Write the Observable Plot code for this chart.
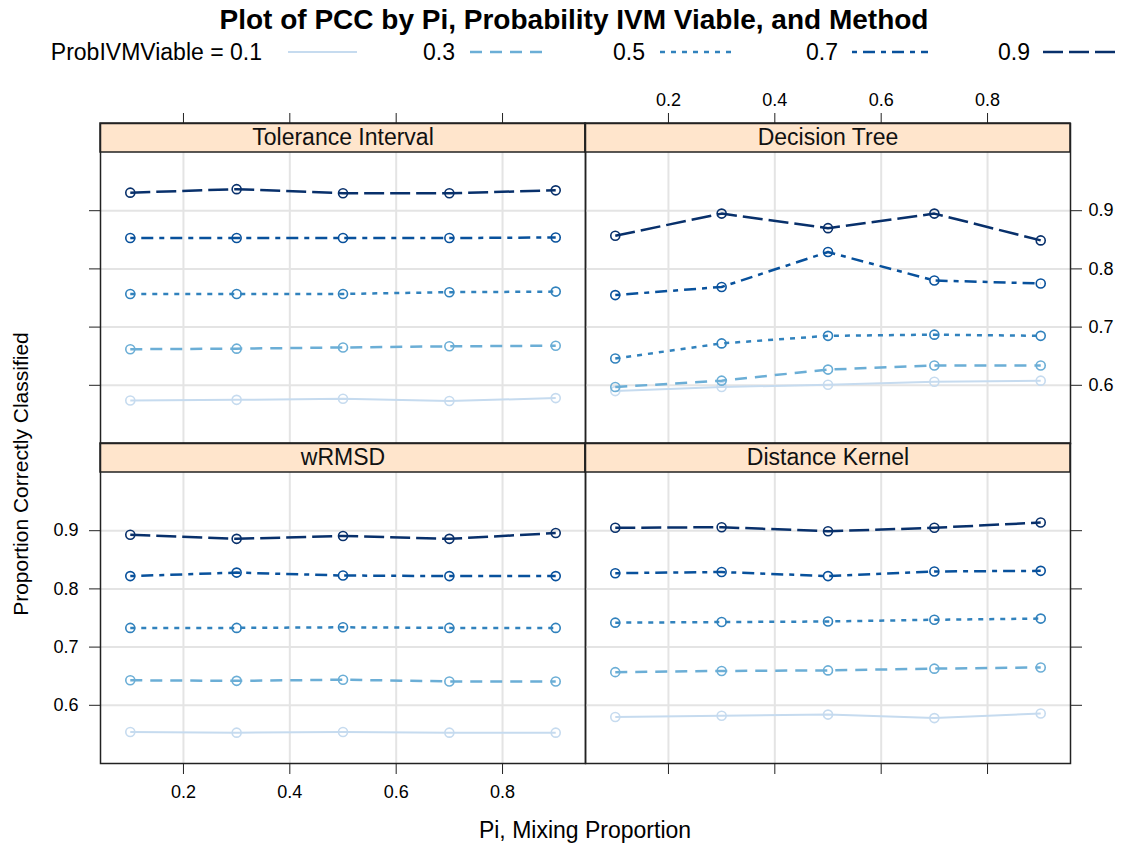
<!DOCTYPE html>
<html><head><meta charset="utf-8">
<script src="https://cdn.jsdelivr.net/npm/d3@7"></script>
<script src="https://cdn.jsdelivr.net/npm/@observablehq/plot@0.6"></script>
<style>
body{margin:0;background:#fff;}
#root{position:relative;width:1128px;height:847px;font-family:"Liberation Sans",Arial,sans-serif;color:#000;overflow:hidden;background:#fff}
.abs{position:absolute;white-space:nowrap;line-height:1}
</style></head><body><div id="root"></div>
<script>
// ---------------- data ----------------
const piValues = [0.1, 0.3, 0.5, 0.7, 0.9];
const probLevels = ["0.1", "0.3", "0.5", "0.7", "0.9"];
const methods = ["Tolerance Interval", "Decision Tree", "wRMSD", "Distance Kernel"];
const xTicks = [0.2, 0.4, 0.6, 0.8];
const yTicks = [0.6, 0.7, 0.8, 0.9];

// rows: ProbIVMViable 0.1, 0.3, 0.5, 0.7, 0.9 ; columns: Pi 0.1..0.9
const pccToleranceInterval = [
  [0.574, 0.575, 0.577, 0.573, 0.578],
  [0.662, 0.663, 0.665, 0.667, 0.668],
  [0.757, 0.757, 0.757, 0.760, 0.761],
  [0.853, 0.853, 0.853, 0.853, 0.854],
  [0.931, 0.937, 0.930, 0.930, 0.935]
];
const pccDecisionTree = [
  [0.590, 0.597, 0.601, 0.606, 0.608],
  [0.597, 0.608, 0.627, 0.634, 0.634],
  [0.646, 0.672, 0.685, 0.687, 0.685],
  [0.755, 0.769, 0.829, 0.780, 0.775],
  [0.857, 0.895, 0.870, 0.895, 0.849]
];
const pccWRMSD = [
  [0.554, 0.553, 0.554, 0.553, 0.553],
  [0.643, 0.642, 0.644, 0.641, 0.641],
  [0.733, 0.733, 0.734, 0.733, 0.733],
  [0.822, 0.828, 0.823, 0.822, 0.822],
  [0.893, 0.886, 0.891, 0.886, 0.896]
];
const pccDistanceKernel = [
  [0.580, 0.582, 0.584, 0.578, 0.586],
  [0.657, 0.659, 0.660, 0.663, 0.665],
  [0.742, 0.743, 0.744, 0.747, 0.749],
  [0.827, 0.829, 0.822, 0.830, 0.831],
  [0.905, 0.906, 0.899, 0.905, 0.914]
];

// ---------------- style ----------------
const colors = ["#c6dbef", "#6baed6", "#3182bd", "#08519c", "#08306b"];
const dashes = [null, "12,8", "5,6", "5,6,12,6", "20,6"];
const widths = [2, 2.5, 2.5, 2.5, 2.5];
const FONT = "Liberation Sans, Arial, sans-serif";
const TICK_FS = 18;

const X_DOMAIN = [0.044, 0.956];
const Y_LO = 0.5, Y_HI = 1.0;
const STRIP_PX = 29, PANEL_PX = 291;
const Y_TOP = Y_HI + (Y_HI - Y_LO) * STRIP_PX / PANEL_PX;

const root = document.getElementById("root");

function place(el, left, top) {
  el.style.position = "absolute";
  el.style.left = left + "px";
  el.style.top = top + "px";
  root.appendChild(el);
}

function panel(method, values, col, row) {
  const rows = [];
  values.forEach((arr, i) => arr.forEach((v, j) => rows.push({pi: piValues[j], pcc: v, prob: probLevels[i]})));
  const marks = [
    Plot.ruleX(xTicks, {y1: () => Y_LO, y2: () => Y_HI, stroke: "#e4e4e4", strokeWidth: 2}),
    Plot.ruleY(yTicks, {stroke: "#e4e4e4", strokeWidth: 2})
  ];
  probLevels.forEach((p, i) => {
    const d = rows.filter(r => r.prob === p);
    marks.push(Plot.line(d, {x: "pi", y: "pcc", stroke: "prob", strokeWidth: widths[i],
      strokeDasharray: dashes[i] || undefined, strokeLinecap: "butt", strokeLinejoin: "round"}));
    marks.push(Plot.dot(d, {x: "pi", y: "pcc", stroke: "prob", r: 4.5, strokeWidth: 1.6, fill: "none"}));
  });
  marks.push(Plot.rect([method], {x1: () => X_DOMAIN[0], x2: () => X_DOMAIN[1], y1: () => Y_HI, y2: () => Y_TOP,
    fill: "#ffe5cc", stroke: "#222", strokeWidth: 1.5}));
  marks.push(Plot.text([method], {x: () => (X_DOMAIN[0] + X_DOMAIN[1]) / 2, y: () => (Y_HI + Y_TOP) / 2,
    text: d => d, fontSize: 23, fill: "#111"}));
  marks.push(Plot.frame({stroke: "#222", strokeWidth: 1.5}));

  const fmt = d => d.toFixed(1);
  const blank = () => "";
  // lattice alternating axes
  if (row === 0) {
    marks.push(Plot.axisX(xTicks, {anchor: "top", tickSize: 11, tickPadding: 7, fontSize: TICK_FS,
      tickFormat: col === 1 ? fmt : blank, label: null, stroke: "#222"}));
  } else {
    marks.push(Plot.axisX(xTicks, {anchor: "bottom", tickSize: 11, tickPadding: 11, fontSize: TICK_FS,
      tickFormat: col === 0 ? fmt : blank, label: null, stroke: "#222"}));
  }
  if (col === 0) {
    marks.push(Plot.axisY(yTicks, {anchor: "left", tickSize: 11, tickPadding: 11, fontSize: TICK_FS,
      tickFormat: row === 1 ? fmt : blank, label: null, stroke: "#222"}));
  } else {
    marks.push(Plot.axisY(yTicks, {anchor: "right", tickSize: 11, tickPadding: 7, fontSize: TICK_FS,
      tickFormat: row === 0 ? fmt : blank, label: null, stroke: "#222"}));
  }

  const mL = col === 0 ? 100 : 0, mR = col === 0 ? 0 : 58;
  const mT = row === 0 ? 48 : 0, mB = row === 0 ? 0 : 84;
  const chart = Plot.plot({
    width: mL + 485 + mR,
    height: mT + 320 + mB,
    marginLeft: mL, marginRight: mR, marginTop: mT, marginBottom: mB,
    x: {domain: X_DOMAIN, axis: null},
    y: {domain: [Y_LO, Y_TOP], axis: null},
    color: {domain: probLevels, range: colors},
    style: {fontFamily: FONT, fontSize: TICK_FS + "px", background: "transparent", overflow: "visible", color: "#000"},
    marks
  });
  place(chart, col === 0 ? 0 : 585, row === 0 ? 75 : 443);
}

panel(methods[0], pccToleranceInterval, 0, 0);
panel(methods[1], pccDecisionTree, 1, 0);
panel(methods[2], pccWRMSD, 0, 1);
panel(methods[3], pccDistanceKernel, 1, 1);

// ---------------- title, legend, axis titles ----------------
function label(text, css) {
  const d = document.createElement("div");
  d.className = "abs";
  d.textContent = text;
  Object.assign(d.style, css);
  root.appendChild(d);
  return d;
}
label("Plot of PCC by Pi, Probability IVM Viable, and Method",
  {left: "574px", top: "20px", transform: "translate(-50%,-50%)", fontSize: "28px", fontWeight: "bold"});

const legendText = ["ProbIVMViable = 0.1", "0.3", "0.5", "0.7", "0.9"];
const legendTextRight = [262, 455, 645, 838, 1030];
const legendLine = [[288, 357], [470, 545], [660, 737], [852, 928], [1043, 1120]];
const NS = "http://www.w3.org/2000/svg";
const lsvg = document.createElementNS(NS, "svg");
lsvg.setAttribute("width", 1128); lsvg.setAttribute("height", 34);
lsvg.style.position = "absolute"; lsvg.style.left = "0px"; lsvg.style.top = "36px";
root.appendChild(lsvg);
legendText.forEach((t, i) => {
  const tx = document.createElementNS(NS, "text");
  tx.setAttribute("x", legendTextRight[i]); tx.setAttribute("y", 16);
  tx.setAttribute("text-anchor", "end"); tx.setAttribute("dominant-baseline", "central");
  tx.setAttribute("font-family", FONT); tx.setAttribute("font-size", 23);
  tx.textContent = t; lsvg.appendChild(tx);
  const ln = document.createElementNS(NS, "line");
  ln.setAttribute("x1", legendLine[i][0]); ln.setAttribute("x2", legendLine[i][1]);
  ln.setAttribute("y1", 16); ln.setAttribute("y2", 16);
  ln.setAttribute("stroke", colors[i]); ln.setAttribute("stroke-width", widths[i]);
  if (dashes[i]) ln.setAttribute("stroke-dasharray", dashes[i]);
  lsvg.appendChild(ln);
});

label("Pi, Mixing Proportion", {left: "585px", top: "830px", transform: "translate(-50%,-50%)", fontSize: "23px"});
label("Proportion Correctly Classified", {left: "20px", top: "474px", transform: "translate(-50%,-50%) rotate(-90deg)", fontSize: "21px"});
</script></body></html>
